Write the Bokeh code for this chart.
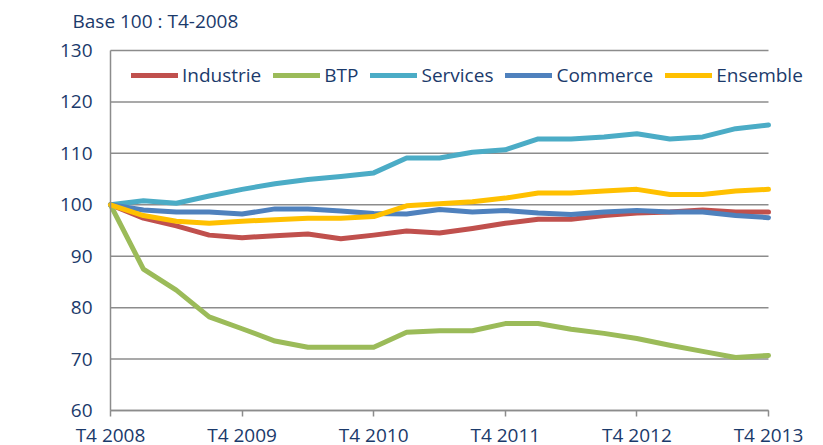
from bokeh.plotting import figure
from bokeh.models import FixedTicker, Label, Legend, LegendItem, Range1d
from bokeh.embed import file_html
from bokeh.resources import INLINE

quarters = ["T4 2008", "T1 2009", "T2 2009", "T3 2009", "T4 2009",
            "T1 2010", "T2 2010", "T3 2010", "T4 2010",
            "T1 2011", "T2 2011", "T3 2011", "T4 2011",
            "T1 2012", "T2 2012", "T3 2012", "T4 2012",
            "T1 2013", "T2 2013", "T3 2013", "T4 2013"]

industrie = [100, 97.4, 95.9, 94.1, 93.6, 94.0, 94.3, 93.4, 94.1, 94.9, 94.5,
             95.4, 96.4, 97.2, 97.2, 97.9, 98.4, 98.6, 99.0, 98.6, 98.6]
btp = [100, 87.5, 83.4, 78.2, 75.9, 73.5, 72.3, 72.3, 72.3, 75.2, 75.5,
       75.5, 76.9, 76.9, 75.8, 75.0, 74.0, 72.7, 71.5, 70.3, 70.7]
services = [100, 100.8, 100.3, 101.7, 103.0, 104.1, 104.9, 105.5, 106.2, 109.1, 109.1,
            110.2, 110.7, 112.8, 112.8, 113.2, 113.8, 112.8, 113.2, 114.8, 115.5]
commerce = [100, 99.0, 98.6, 98.6, 98.2, 99.2, 99.2, 98.8, 98.3, 98.2, 99.1,
            98.6, 98.9, 98.4, 98.1, 98.6, 98.9, 98.6, 98.6, 97.9, 97.5]
ensemble = [100, 97.9, 96.8, 96.4, 96.8, 97.1, 97.4, 97.4, 97.7, 99.8, 100.2,
            100.6, 101.3, 102.3, 102.3, 102.7, 103.0, 102.0, 102.0, 102.7, 103.0]

series_names = ["Industrie", "BTP", "Services", "Commerce", "Ensemble"]
series_values = [industrie, btp, services, commerce, ensemble]
series_colors = ["#C0504D", "#9BBB59", "#4BACC6", "#4F81BD", "#FFC000"]

y_ticks = [60, 70, 80, 90, 100, 110, 120, 130]
subtitle = "Base 100 : T4-2008"

FONT = "Open Sans"
TXT = "#1B3A6B"
GRID = "#8C8C8C"

xs = list(range(len(quarters)))
last = len(quarters) - 1
year_ticks = [i for i, q in enumerate(quarters) if q.startswith("T4")]

# Layout in page pixels. The frame fills the whole page so that nothing that
# overhangs the plotting area in the original (first/last x labels, legend,
# labels running off the page bottom) gets clipped; axes are pinned in place.
W, H = 823, 445
left_px, right_px = 110, 768       # first / last quarter
top_px, bottom_px = 50, 410        # y = 130 / y = 60
px_x = (right_px - left_px) / last
px_y = (bottom_px - top_px) / (y_ticks[-1] - y_ticks[0])
x_range = Range1d(-left_px / px_x, last + (W - right_px) / px_x)
y_range = Range1d(y_ticks[0] - (H - bottom_px) / px_y, y_ticks[-1] + top_px / px_y)

p = figure(width=W, height=H, output_backend="svg", toolbar_location=None,
           x_range=x_range, y_range=y_range,
           min_border=0, min_border_left=0, min_border_right=0,
           min_border_top=0, min_border_bottom=0)
p.outline_line_color = None
p.background_fill_color = "white"
p.border_fill_color = "white"

# x axis pinned at y = 60
p.xaxis.fixed_location = y_ticks[0]
p.xaxis.ticker = FixedTicker(ticks=year_ticks)
p.xaxis.major_label_overrides = {i: quarters[i] for i in year_ticks}
p.xaxis.bounds = (0, last)
p.xaxis.minor_tick_line_color = None
p.xaxis.major_tick_in = 0
p.xaxis.major_tick_out = 6
p.xaxis.major_tick_line_color = GRID
p.xaxis.major_tick_line_width = 1.5
p.xaxis.axis_line_color = GRID
p.xaxis.axis_line_width = 1.5
p.xaxis.major_label_standoff = 5
p.xaxis.major_label_text_font = FONT
p.xaxis.major_label_text_font_size = "19px"
p.xaxis.major_label_text_color = TXT

# y axis pinned at the first quarter
p.yaxis.fixed_location = 0
p.yaxis.ticker = FixedTicker(ticks=y_ticks)
p.yaxis.bounds = (y_ticks[0], y_ticks[-1])
p.yaxis.minor_tick_line_color = None
p.yaxis.major_tick_in = 0
p.yaxis.major_tick_out = 0
p.yaxis.axis_line_color = GRID
p.yaxis.axis_line_width = 1.5
p.yaxis.major_label_standoff = 18
p.yaxis.major_label_text_font = FONT
p.yaxis.major_label_text_font_size = "19px"
p.yaxis.major_label_text_color = TXT

p.xgrid.grid_line_color = None
p.ygrid.grid_line_color = None

# horizontal grid lines from first to last quarter
p.segment(x0=[0] * len(y_ticks), y0=y_ticks, x1=[last] * len(y_ticks), y1=y_ticks,
          line_color=GRID, line_width=1.5)

items = []
for name, vals, col in zip(series_names, series_values, series_colors):
    r = p.line(xs, vals, line_color=col, line_width=5, line_cap="round", line_join="round")
    items.append(LegendItem(label=name, renderers=[r]))

legend = Legend(items=items, orientation="horizontal", location=(131, 357),
                glyph_width=47, glyph_height=20, label_standoff=4, spacing=12,
                padding=0, margin=0, background_fill_alpha=0, border_line_color=None,
                label_text_font=FONT, label_text_font_size="19px", label_text_color=TXT)
p.add_layout(legend, "center")

p.add_layout(Label(x=72, y=H - 20, x_units="screen", y_units="screen", text=subtitle,
                   text_font=FONT, text_font_size="19px", text_color=TXT,
                   text_baseline="middle", text_align="left"))

open("out.html", "w").write(file_html(p, INLINE))
